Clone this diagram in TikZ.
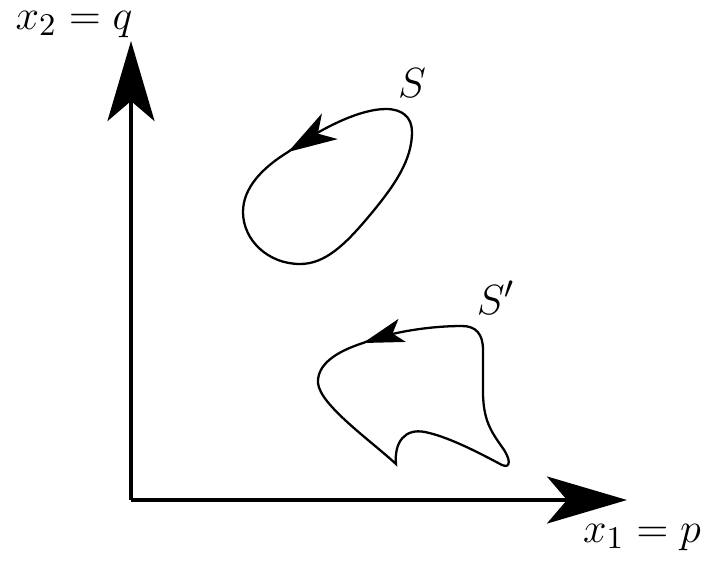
\documentclass[tikz,border=0pt]{standalone}
\usepackage{amsmath,amssymb}
\usepackage{tikz}
\usetikzlibrary{arrows.meta, decorations.markings}

\begin{document}
\begin{tikzpicture}[
  x=0.01cm, y=-0.01cm,
  axis/.style={-{Stealth[length=0.8cm, width=0.47cm, inset=0.2cm]}, line width=1pt},
  orbit/.style={
    line width=0.65pt, postaction={decorate},
    decoration={markings, mark=at position 0 with {\arrow{Stealth[#1]}}}
  },
  lab/.style={font=\fontsize{13}{15}\selectfont, anchor=base, inner sep=0pt}
]
  \useasboundingbox (0,0) rectangle (709,560);

  % axes
  \coordinate (origin) at (131,500);
  \coordinate (xend) at (627,500);
  \coordinate (yend) at (131,41);
  \draw[axis] (origin) -- (xend);
  \draw[axis] (origin) -- (yend);
  \node[lab] (xlab) at (642,542) {$x_1 = p$};
  \node[lab] (ylab) at (74,29) {$x_2 = q$};

  % region S
  \draw[orbit={length=0.49cm, width=0.3cm, inset=0.14cm}] (288,152)
    .. controls (262,168) and (243,188) .. (243,212)
    .. controls (243,240) and (268,264) .. (300,264)
    .. controls (325,264) and (345,245) .. (370,215)
    .. controls (395,185) and (412,160) .. (412,132)
    .. controls (412,117) and (402,109) .. (386,109)
    .. controls (357,109) and (315,132) .. cycle;
  \node[lab] (slab) at (412,97) {$S$};

  % region S'
  \draw[orbit={length=0.41cm, width=0.24cm, inset=0.1cm}] (363,343)
    .. controls (335,352) and (317,365) .. (318,383)
    .. controls (320,405) and (370,440) .. (396,464)
    .. controls (394,442) and (405,428) .. (425,432)
    .. controls (450,437) and (485,456) .. (502,465)
    .. controls (511,469) and (511,459) .. (502,447)
    .. controls (490,430) and (484,420) .. (483,395)
    .. controls (483,375) and (483,360) .. (483,350)
    .. controls (483,334) and (476,326) .. (462,326)
    .. controls (430,326) and (390,332) .. cycle;
  \node[lab] (sprimelab) at (496,314) {$S'$};
\end{tikzpicture}
\end{document}
